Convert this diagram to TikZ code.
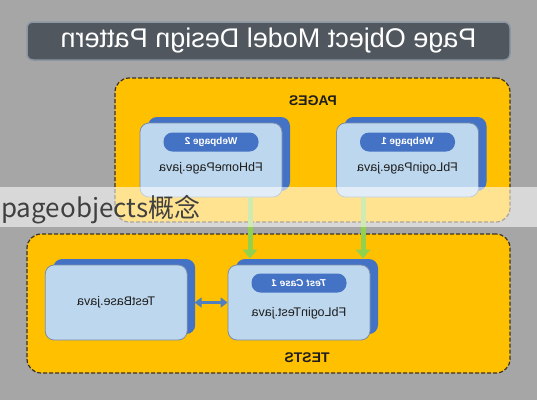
\documentclass[tikz,border=0pt]{standalone}
\usepackage{graphicx}
\usepackage{fontspec}
\setmainfont{Liberation Sans}
\newfontfamily\cjkfont{Noto Sans CJK SC}
\usetikzlibrary{arrows.meta,positioning,shadows}
\definecolor{bggray}{HTML}{A6A6A6}
\definecolor{titlebar}{HTML}{50575F}
\definecolor{titleedge}{HTML}{8C96A2}
\definecolor{amber}{HTML}{FFC000}
\definecolor{dashline}{HTML}{3B3222}
\definecolor{cardblue}{HTML}{4472C4}
\definecolor{cardfill}{HTML}{BDD7EE}
\definecolor{cardedge}{HTML}{7A8CA8}
\definecolor{feedgreen}{HTML}{92D050}
\definecolor{linkblue}{HTML}{4F7FBF}
\definecolor{inkdark}{HTML}{1E1E1E}
\newcommand{\mirrortext}[1]{\reflectbox{#1}}

\begin{document}
\begin{tikzpicture}[x=1pt, y=-1pt, node distance=40pt, every node/.style={font=\fontsize{12.5}{14}\selectfont,text=inkdark}, zone/.style={draw=dashline,dash pattern=on 4pt off 2pt,line width=1.2pt,rounded corners=14pt,fill=amber,minimum width=395pt,minimum height=144pt}, card/.style={draw=cardedge,line width=0.8pt,rounded corners=9pt,fill=cardfill,minimum width=142pt,minimum height=74pt,general shadow={shadow xshift=8pt,shadow yshift=6pt,fill=cardblue,draw=none}}, pill/.style={rounded corners=9pt,fill=cardblue,minimum width=95pt,minimum height=19pt,inner sep=0pt,text=white,font=\bfseries\fontsize{10}{11}\selectfont}, feed/.style={-{Triangle[length=9pt,width=14pt]},line width=5pt,draw=feedgreen,shorten >=6pt}, link/.style={{Triangle[length=7pt,width=10pt]}-{Triangle[length=7pt,width=10pt]},line width=3pt,draw=linkblue,shorten <=7pt}]
\useasboundingbox (0,0) rectangle (537,400);
\fill[bggray] (0,0) rectangle (537,400);
\node[fill=titlebar,draw=titleedge,line width=1.5pt,rounded corners=6pt,minimum width=483pt,minimum height=38pt,text=white,font=\fontsize{27}{29}\selectfont] (title) at (268.5,41) {\mirrortext{Page Object Model Design Pattern}};
% pages
\node[zone] (pages) at (312.5,150) {};
\node[font=\bfseries\fontsize{14}{16}\selectfont] (pageslabel) at (313,101) {\mirrortext{PAGES}};
\node[card] (homepage) at (211,160) {};
\node[card] (loginpage) at (407.5,160) {};
\node[pill] (web2) at ([yshift=18pt]homepage.center) {\mirrortext{Webpage 2}};
\node[pill] (web1) at ([yshift=18pt]loginpage.center) {\mirrortext{Webpage 1}};
\node (homejava) at ([yshift=-8pt]homepage.center) {\mirrortext{FbHomePage.java}};
\node (loginjava) at ([yshift=-8pt]loginpage.center) {\mirrortext{FbLoginPage.java}};
% tests
\node[zone,minimum width=483pt,minimum height=139pt] (tests) at (268.5,303.5) {};
\node[font=\bfseries\fontsize{14}{16}\selectfont] (testslabel) at (307,358) {\mirrortext{TESTS}};
\node[card,minimum height=75pt] (logintest) at (299,302.5) {};
\node[card,minimum height=75pt,left=of logintest] (testbase) {\mirrortext{TestBase.java}};
\node[pill,font=\bfseries\itshape\fontsize{10}{11}\selectfont] (case1) at ([yshift=19.5pt]logintest.center) {\mirrortext{Test Case 1}};
\node (testjava) at ([yshift=-10.5pt]logintest.center) {\mirrortext{FbLoginTest.java}};
\draw[feed] ([xshift=39pt]homepage.south) -- ([xshift=39pt]homepage.south |- logintest.north);
\draw[feed] ([xshift=-44.5pt]loginpage.south) -- ([xshift=-44.5pt]loginpage.south |- logintest.north);
\draw[link] (testbase.east) -- (logintest.west);
% overlay band
\node[fill=white,opacity=0.57,minimum width=537pt,minimum height=40pt,inner sep=0pt] (band) at (268.5,207) {};
\node[anchor=base west,inner sep=0pt,text=inkdark!85,font=\cjkfont\fontsize{26}{28}\selectfont] (caption) at (1,217) {pageobjects概念};
\end{tikzpicture}
\end{document}
